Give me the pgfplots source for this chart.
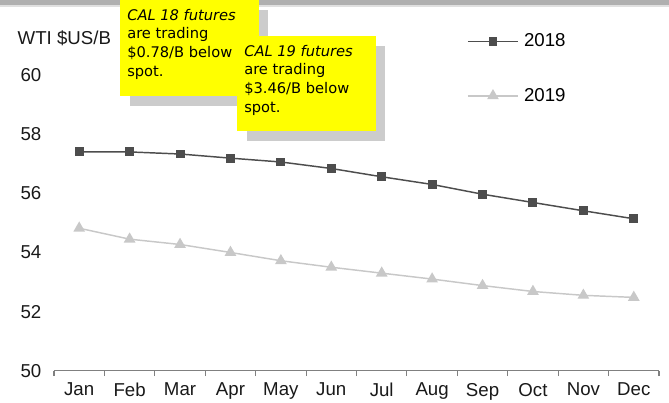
\documentclass[border=0pt]{standalone}
\usepackage{fontspec}
\setmainfont{Liberation Sans}
\newfontfamily\notefont{DejaVu Sans}
\usepackage{pgfplots}
\pgfplotsset{compat=1.18}
\definecolor{dark}{HTML}{4D4D4D}
\definecolor{light}{HTML}{C8C8C8}
\definecolor{band}{HTML}{B0B0B0}
\definecolor{shadow}{HTML}{CCCCCC}
\definecolor{note}{HTML}{FFFF00}
\begin{document}
\begin{tikzpicture}
\path[use as bounding box] (0,0) rectangle (501.75pt,302.25pt);
\begin{scope}[x=0.75pt,y=-0.75pt,shift={(0,302.25pt)}]
\fill[band] (0,0) rectangle (669,5.5);
\fill[black!12] (0,5.5) rectangle (669,7);
\end{scope}
\begin{axis}[
  at={(40.5pt,24.2pt)}, anchor=south west,
  scale only axis, width=453.75pt, height=266.1pt,
  xmin=-0.5, xmax=11.5, ymin=50, ymax=62,
  axis x line*=bottom, axis y line*=left,
  x axis line style={draw=black!50, line width=0.8pt, -},
  y axis line style={draw=none},
  xtick={0,...,11},
  xticklabels={Jan,Feb,Mar,Apr,May,Jun,Jul,Aug,Sep,Oct,Nov,Dec},
  major x tick style={draw=none},
  minor xtick={-0.5,0.5,...,11.5},
  minor x tick style={draw=black!50, line width=0.8pt},
  minor tick length=4pt,
  xtick align=outside,
  ytick={50,52,...,60},
  ytick style={draw=none},
  /pgf/number format/assume math mode=true,
  tick label style={font=\fontsize{14}{16}\selectfont, text=black!90},
  xticklabel style={yshift=-1.5pt},
  yticklabel style={xshift=-6pt},
  legend style={at={(0.676,0.965)}, anchor=north west, draw=none, fill=none,
    font=\fontsize{14}{16}\selectfont, row sep=25.5pt,
    nodes={inner sep=2pt}},
  legend cell align=left,
  legend image code/.code={\draw[mark repeat=2,mark phase=2] plot coordinates {(0pt,0pt)(18.75pt,0pt)(37.5pt,0pt)};},
  clip=false,
]
\addplot[dark, line width=1.1pt, mark=square*, mark size=2.8pt, mark options={solid}] coordinates {
(0,57.40) (1,57.40) (2,57.33) (3,57.19) (4,57.06) (5,56.84) (6,56.56) (7,56.30) (8,55.97) (9,55.69) (10,55.41) (11,55.14)};
\addlegendentry{\hspace{2pt}2018}
\addplot[light, line width=1.1pt, mark=triangle*, mark size=4pt, mark options={solid}] coordinates {
(0,54.82) (1,54.45) (2,54.27) (3,54.00) (4,53.72) (5,53.50) (6,53.30) (7,53.10) (8,52.88) (9,52.68) (10,52.55) (11,52.48)};
\addlegendentry{\hspace{2pt}2019}
\end{axis}
\begin{scope}[x=0.75pt,y=-0.75pt,shift={(0,302.25pt)}]
\node[anchor=west, font=\fontsize{14}{16}\selectfont, text=black!90] at (13,38) {WTI \$US/B};
\fill[shadow] (130,10) rectangle (268,106);
\fill[note] (120,0) rectangle (259,96);
\node[anchor=north west, inner sep=0pt, align=left, font=\notefont\fontsize{11}{13.9}\selectfont] at (127,9) {\itshape CAL 18 futures\\are trading\\\$0.78/B below\\spot.};
\fill[shadow] (247,46) rectangle (385,141);
\fill[note] (237,36) rectangle (376,131);
\node[anchor=north west, inner sep=0pt, align=left, font=\notefont\fontsize{11}{13.9}\selectfont] at (244,45) {\itshape CAL 19 futures\\are trading\\\$3.46/B below\\spot.};
\end{scope}
\end{tikzpicture}
\end{document}
